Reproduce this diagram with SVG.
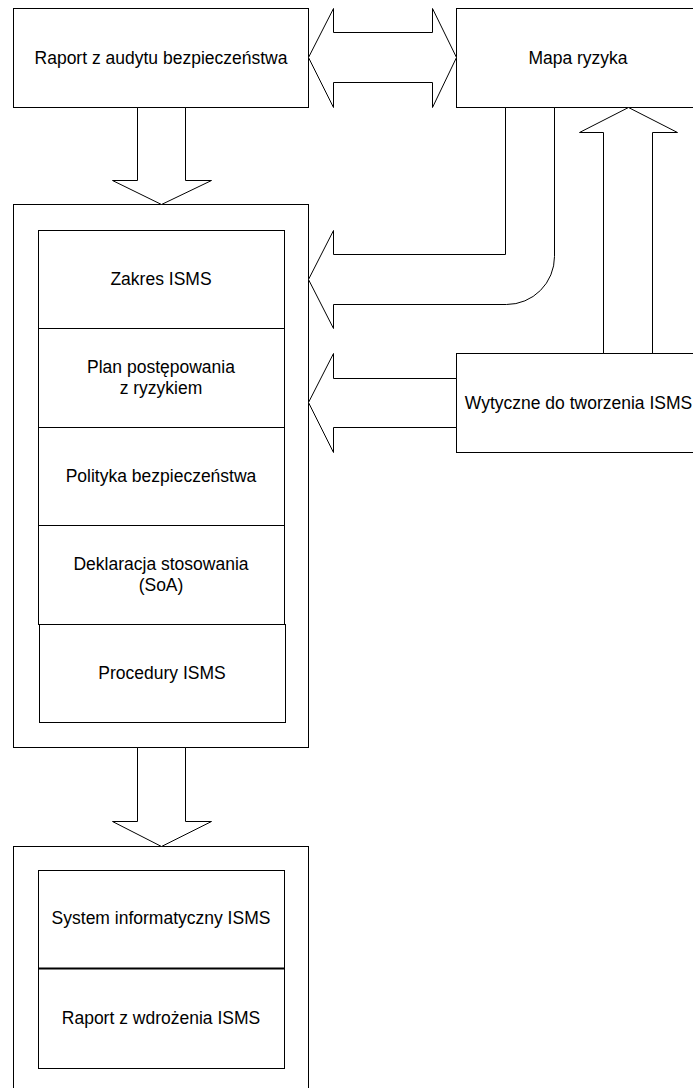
<svg xmlns="http://www.w3.org/2000/svg" width="693" height="1088" viewBox="0 0 693 1088">
<style>
.b{fill:#fff;stroke:#000;stroke-width:1}
.a{fill:#fff;stroke:#000;stroke-width:1;stroke-linejoin:miter}
text{font-family:"Liberation Sans",Arial,sans-serif;font-size:17.5px;fill:#000;text-anchor:middle}
</style>
<rect width="693" height="1088" fill="#fff"/>
<g id="raport-audytu"><rect class="b" x="13.5" y="8.5" width="295" height="99"/><text x="161" y="63.5">Raport z audytu bezpieczeństwa</text></g>
<g id="mapa-ryzyka"><rect class="b" x="456.5" y="8.5" width="250" height="99"/><text x="578" y="63.5">Mapa ryzyka</text></g>
<g id="isms-dokumenty"><rect class="b" x="13.5" y="204.5" width="295" height="543"/></g>
<g id="zakres"><rect class="b" x="38.5" y="230.5" width="246" height="98"/><text x="161" y="284.5">Zakres ISMS</text></g>
<g id="plan"><rect class="b" x="38.5" y="328.5" width="246" height="99"/><text x="161" y="373">Plan postępowania</text><text x="161" y="393.5">z ryzykiem</text></g>
<g id="polityka"><rect class="b" x="38.5" y="427.5" width="246" height="98"/><text x="161" y="482">Polityka bezpieczeństwa</text></g>
<g id="deklaracja"><rect class="b" x="38.5" y="525.5" width="246" height="99"/><text x="161" y="570">Deklaracja stosowania</text><text x="161" y="591">(SoA)</text></g>
<g id="procedury"><rect class="b" x="39.5" y="624.5" width="246" height="98"/><text x="162" y="679">Procedury ISMS</text></g>
<g id="wytyczne"><rect class="b" x="456.5" y="353.5" width="250" height="99"/><text x="578.5" y="408.5">Wytyczne do tworzenia ISMS</text></g>
<g id="wdrozenie"><rect class="b" x="13.5" y="846.5" width="295" height="260"/></g>
<g id="system"><rect class="b" x="38.5" y="870.5" width="246" height="98"/><text x="161" y="923.5">System informatyczny ISMS</text></g>
<g id="raport-wdrozenia"><rect class="b" x="38.5" y="968.5" width="246" height="100"/><line x1="38.5" y1="968.5" x2="284.5" y2="968.5" stroke="#000" stroke-width="2"/><text x="161" y="1023.5">Raport z wdrożenia ISMS</text></g>
<g id="connectors">
<polygon class="a" points="308.5,57.5 333.5,8.5 333.5,32.5 432.5,32.5 432.5,8.5 456.5,57.5 432.5,107.5 432.5,82.5 333.5,82.5 333.5,107.5"/>
<polygon class="a" points="137.5,107.5 185.5,107.5 185.5,180.5 211.5,180.5 161.5,204.5 112.5,180.5 137.5,180.5"/>
<path class="a" d="M505.5,107.5 L505.5,254.5 L333.5,254.5 L333.5,230.5 L308.5,279.5 L333.5,328.5 L333.5,304.5 L506.5,304.5 A48,48 0 0 0 554.5,256.5 L554.5,107.5 Z"/>
<polygon class="a" points="603.5,353.5 603.5,132.5 579.5,132.5 628.5,107.5 677.5,132.5 652.5,132.5 652.5,353.5"/>
<polygon class="a" points="456.5,378.5 333.5,378.5 333.5,353.5 308.5,402.5 333.5,452.5 333.5,427.5 456.5,427.5"/>
<polygon class="a" points="137.5,747.5 185.5,747.5 185.5,821.5 211.5,821.5 161.5,846.5 112.5,821.5 137.5,821.5"/>
</g>
</svg>
